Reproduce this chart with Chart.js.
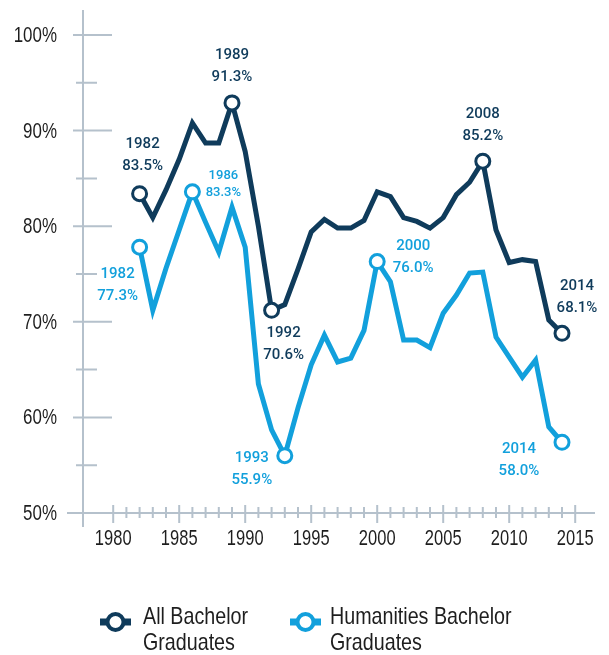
<!DOCTYPE html>
<html>
<head>
<meta charset="utf-8">
<script src="https://cdn.jsdelivr.net/npm/chart.js@4.4.1/dist/chart.umd.min.js"></script>
<style>
  html,body{margin:0;padding:0;background:#fff;}
  #wrap{position:relative;width:609px;height:655px;}
</style>
</head>
<body>
<div id="wrap"><canvas id="chartGrads"></canvas></div>
<script>
// values
const years = [1982,1983,1984,1985,1986,1987,1988,1989,1990,1991,1992,1993,1994,1995,1996,1997,
  1998,1999,2000,2001,2002,2003,2004,2005,2006,2007,2008,2009,2010,2011,2012,2013,2014];
const allGrads = [83.4,80.9,83.8,87.0,90.8,88.7,88.7,92.9,87.8,80.0,71.2,71.8,75.5,79.4,80.7,79.8,
  79.8,80.6,83.6,83.1,80.9,80.5,79.8,80.9,83.3,84.6,86.8,79.6,76.2,76.5,76.3,70.2,68.8];
const humGrads = [77.8,71.2,75.6,79.6,83.6,80.4,77.3,82.0,77.8,63.5,58.7,56.0,61.0,65.5,68.6,65.8,
  66.2,69.1,76.3,74.2,68.1,68.1,67.3,70.9,72.8,75.1,75.2,68.4,66.3,64.2,66.0,59.0,57.4];
const xTickYears = [1980,1985,1990,1995,2000,2005,2010,2015];
const yTickValues = [50,60,70,80,90,100];
const yMinorValues = [55,65,75,85,95];
const seriesNames = [['All Bachelor','Graduates'],['Humanities Bachelor','Graduates']];
const allNoteYears = [1982,1989,1992,2008,2014];
const allNoteText = ['83.5%','91.3%','70.6%','85.2%','68.1%'];
const humNoteYears = [1982,1986,1993,2000,2014];
const humNoteText = ['77.3%','83.3%','55.9%','76.0%','58.0%'];

const DARK = '#0f3b5b', LIGHT = '#12a0dc', AXIS = '#b5c1cc', TEXT = '#1e1e1e';

// label offsets from the marker (dx, dy of the label block centre)
const noteStyle = [
  {1982:[3,-38],1989:[0,-37],1992:[12,34],2008:[0,-36],2014:[15,-36]},
  {1982:[-22,38],1986:[31,-8,true],1993:[-33,14],2000:[36,-4],2014:[-43,18]}
];
const noteYears = [allNoteYears, humNoteYears];
const noteText = [allNoteText, humNoteText];

// condensed look: Liberation Sans squeezed horizontally
function narrowText(ctx, text, x, y, size, align, squeeze){
  ctx.save();
  ctx.translate(x, y);
  ctx.scale(squeeze, 1);
  ctx.font = size + 'px "Liberation Sans", Arial, sans-serif';
  ctx.textAlign = align;
  ctx.fillText(text, 0, 0);
  ctx.restore();
}

const axisPlugin = {
  id:'axisMarks',
  beforeDatasetsDraw(chart){
    const {ctx, chartArea:a, scales:{x, y}} = chart;
    const ax = a.left + 16;
    ctx.save();
    ctx.strokeStyle = AXIS; ctx.lineWidth = 2;
    ctx.beginPath();
    ctx.moveTo(ax, a.top - 25); ctx.lineTo(ax, a.bottom + 14);
    ctx.moveTo(a.left, a.bottom); ctx.lineTo(a.right, a.bottom);
    yTickValues.forEach(v => { const py = y.getPixelForValue(v); ctx.moveTo(ax - 10, py); ctx.lineTo(ax + 29, py); });
    yMinorValues.forEach(v => { const py = y.getPixelForValue(v); ctx.moveTo(ax - 7, py); ctx.lineTo(ax + 14, py); });
    for(let yr = xTickYears[0]; yr <= xTickYears[xTickYears.length-1]; yr++){
      const px = x.getPixelForValue(yr);
      const major = xTickYears.includes(yr);
      ctx.moveTo(px, a.bottom - (major ? 8 : 6)); ctx.lineTo(px, a.bottom + (major ? 10 : 5));
    }
    ctx.stroke();
    // tick labels
    ctx.fillStyle = TEXT; ctx.textBaseline = 'middle';
    y.ticks.forEach(t => narrowText(ctx, t.value + '%', a.left - 10, y.getPixelForValue(t.value) + 1, 22, 'right', 0.77));
    x.ticks.forEach(t => narrowText(ctx, String(t.value), x.getPixelForValue(t.value), a.bottom + 26, 22, 'center', 0.75));
    ctx.restore();
  }
};

const notePlugin = {
  id:'pointNotes',
  afterDatasetsDraw(chart){
    const ctx = chart.ctx;
    ctx.save();
    ctx.textAlign = 'center'; ctx.textBaseline = 'middle';
    chart.data.datasets.forEach((ds, i) => {
      const meta = chart.getDatasetMeta(i);
      noteYears[i].forEach((yr, k) => {
        const idx = years.indexOf(yr);
        const pt = meta.data[idx];
        const st = noteStyle[i][yr];
        const small = !!st[2];
        const gap = small ? 17 : 22;
        ctx.fillStyle = ds.borderColor;
        ctx.font = (small ? '500 13px' : '500 15px') + ' Roboto';
        const cx = pt.x + st[0], cy = pt.y + st[1];
        ctx.fillText(String(yr), cx, cy - gap/2);
        ctx.fillText(noteText[i][k], cx, cy + gap/2);
      });
    });
    ctx.restore();
  }
};

const legendPos = [{icon:100, text:143}, {icon:290, text:330}];
const legendPlugin = {
  id:'twoLineLegend',
  afterDraw(chart){
    const ctx = chart.ctx;
    ctx.save();
    chart.data.datasets.forEach((ds, i) => {
      const p = legendPos[i];
      ctx.strokeStyle = ds.borderColor;
      ctx.lineWidth = 7;
      ctx.beginPath(); ctx.moveTo(p.icon, 622); ctx.lineTo(p.icon + 31, 622); ctx.stroke();
      ctx.fillStyle = '#fff'; ctx.lineWidth = 4;
      ctx.beginPath(); ctx.arc(p.icon + 15.5, 622, 8, 0, Math.PI*2); ctx.fill(); ctx.stroke();
      ctx.fillStyle = TEXT; ctx.textBaseline = 'alphabetic';
      ds.label.forEach((line, j) => narrowText(ctx, line, p.text, 624 + j*26, 24, 'left', 0.82));
    });
    ctx.restore();
  }
};

function markerRadius(list){
  return ctx => list.includes(years[ctx.dataIndex]) ? 7 : 0;
}

function makeSet(label, values, color, marks){
  return {
    label, data: years.map((yr, i) => ({x:yr, y:values[i]})),
    borderColor: color, backgroundColor:'#fff', borderWidth:5, borderJoinStyle:'miter',
    pointRadius: markerRadius(marks), pointBorderWidth:3, pointBackgroundColor:'#fff',
    pointBorderColor: color, pointHoverRadius: markerRadius(marks), tension:0, clip:false
  };
}

new Chart(document.getElementById('chartGrads').getContext('2d'), {
  type:'line',
  data:{ datasets:[
    makeSet(seriesNames[0], allGrads, DARK, allNoteYears),
    makeSet(seriesNames[1], humGrads, LIGHT, humNoteYears)
  ]},
  options:{
    responsive:true, maintainAspectRatio:false, animation:false, events:[],
    layout:{ padding:{ left:0, top:35, right:14, bottom:0 } },
    plugins:{ legend:{ display:false }, tooltip:{ enabled:false } },
    scales:{
      x:{
        type:'linear', min:1976.5, max:2016.5,
        grid:{ display:false, drawTicks:false }, border:{ display:false },
        afterBuildTicks: s => { s.ticks = xTickYears.map(v => ({value:v})); },
        afterFit: s => { s.height = 142; },
        ticks:{ display:false }
      },
      y:{
        min:50, max:100,
        grid:{ display:false, drawTicks:false }, border:{ display:false },
        afterBuildTicks: s => { s.ticks = yTickValues.map(v => ({value:v})); },
        afterFit: s => { s.width = 67; },
        ticks:{ display:false }
      }
    }
  },
  plugins:[axisPlugin, notePlugin, legendPlugin]
});
</script>
</body>
</html>
